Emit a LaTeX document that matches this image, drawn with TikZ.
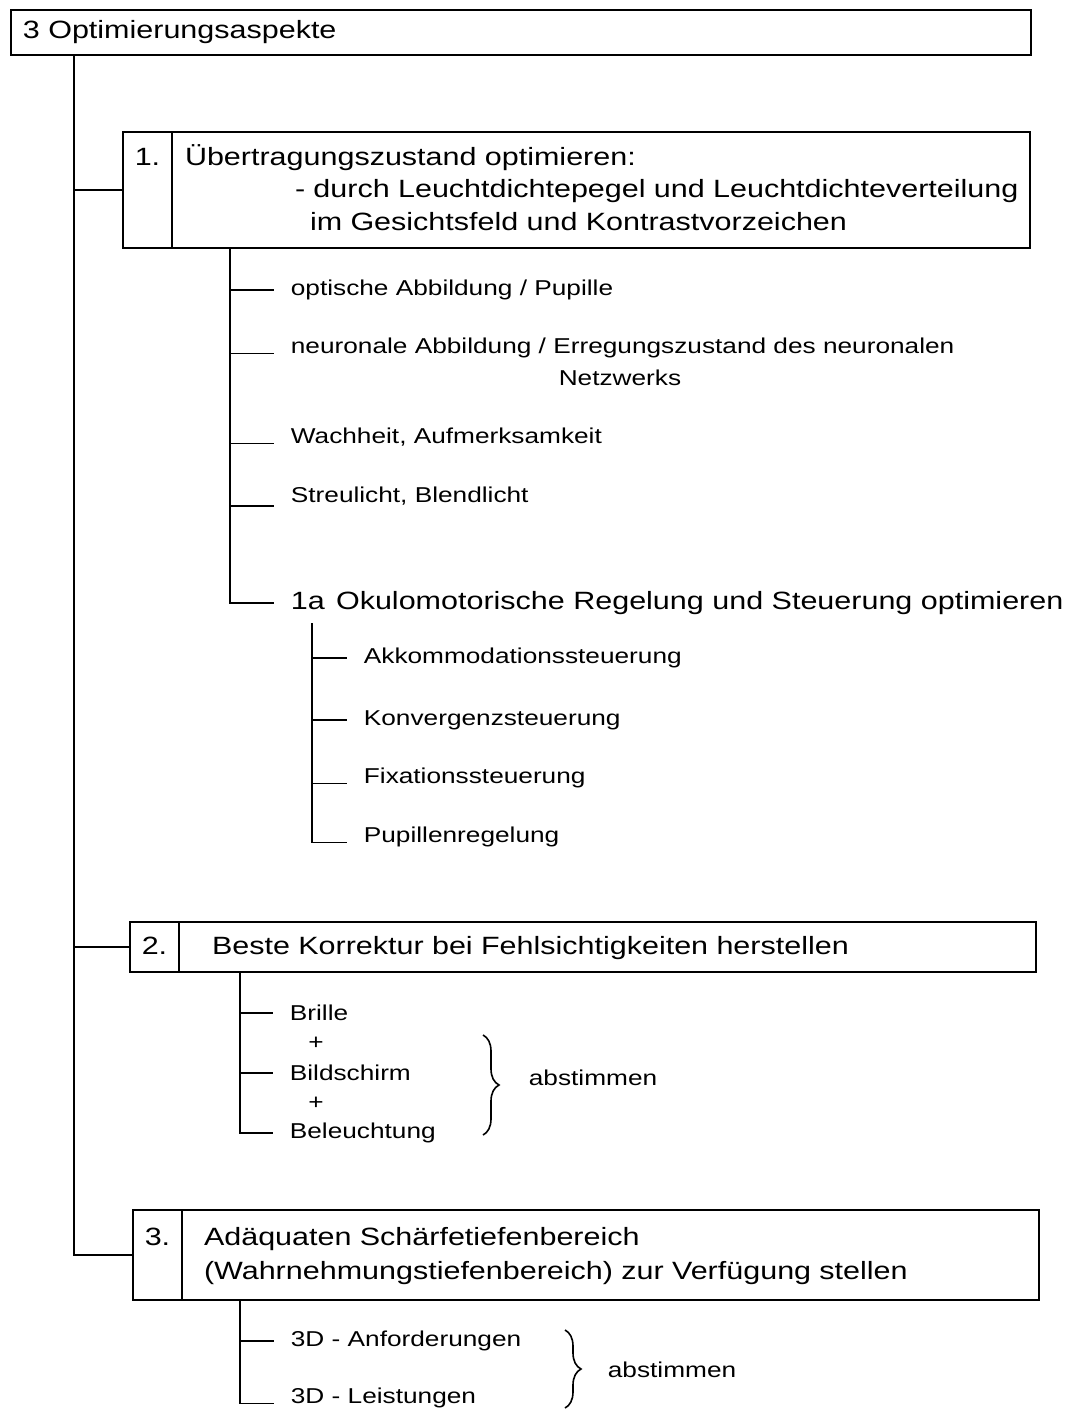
\documentclass[tikz,border=0pt]{standalone}
\usepackage{fontspec}
\setmainfont{Liberation Sans}[FakeStretch=1.22]
\usetikzlibrary{positioning,decorations.pathreplacing}

\newcommand{\bigtxt}{\fontsize{12.5pt}{16.25pt}\selectfont}
\newcommand{\smalltxt}{\fontsize{10.75pt}{15pt}\selectfont}

\tikzstyle{titlebox}=[draw, line width=1pt, anchor=north west, font=\bigtxt, align=left, inner xsep=6pt, minimum height=22.5pt, text width=498pt]
\tikzstyle{numcell}=[draw, line width=1pt, outer sep=0pt, anchor=north west, font=\bigtxt, inner sep=0pt, minimum width=24.5pt]
\tikzstyle{textcell}=[draw, line width=1pt, outer sep=0pt, font=\bigtxt, align=left, inner ysep=0pt, inner xsep=6.5pt]
\tikzstyle{leaf}=[anchor=west, font=\smalltxt, inner xsep=8pt, inner ysep=0pt]
\tikzstyle{note}=[anchor=west, font=\smalltxt, inner sep=0pt]
\tikzstyle{brace}=[decorate, decoration={brace, amplitude=8pt}, line width=0.8pt]

\begin{document}
\begin{tikzpicture}[x=0.5pt, y=-0.5pt, line width=0.9pt]
  \useasboundingbox (0,0) rectangle (1069,1413);
  \node[titlebox] (top) at (10,9) {3 Optimierungsaspekte};

  % 1.
  \node[numcell, text height=16.5pt, text depth=41.5pt] (n1) at (123,132) {1.};
  \node[textcell, right=0pt of n1, text height=16.5pt, text depth=41.5pt, text width=416pt] (t1) {Übertragungszustand optimieren:\\
    \hspace*{55pt}\mbox{- durch Leuchtdichtepegel und Leuchtdichteverteilung}\\
    \hspace*{62.5pt}im Gesichtsfeld und Kontrastvorzeichen};

  % 2.
  \node[numcell, text height=16.25pt, text depth=8.75pt] (n2) at (130,922) {2.};
  \node[textcell, right=0pt of n2, text height=16.25pt, text depth=8.75pt, inner xsep=16.5pt, text width=395.5pt] (t2) {Beste Korrektur bei Fehlsichtigkeiten herstellen};

  % 3.
  \node[numcell, text height=17.75pt, text depth=27.25pt] (n3) at (133,1210) {3.};
  \node[textcell, right=0pt of n3, text height=17.75pt, text depth=27.25pt, inner xsep=11pt, text width=406.5pt] (t3) {Adäquaten Schärfetiefenbereich\\[0.75pt]
    (Wahrnehmungstiefenbereich) zur Verfügung stellen};

  \coordinate (trunk) at (74,0);
  \draw (top.south -| trunk) |- (n3.west);
  \draw (trunk |- n1.west) -- (n1.west);
  \draw (trunk |- n2.west) -- (n2.west);

  % unter 1.
  \node[leaf] (opt) at (274,290) {optische Abbildung / Pupille};
  \node[leaf] (neuro) at (274,348) {neuronale Abbildung / Erregungszustand des neuronalen};
  \node[leaf, anchor=center, inner xsep=0pt] (netz) at (620,378) {Netzwerks};
  \node[leaf] (wach) at (274,437) {Wachheit, Aufmerksamkeit};
  \node[leaf] (streu) at (274,496) {Streulicht, Blendlicht};
  \node[leaf, font=\bigtxt] (okulo) at (274,603) {1a\hspace{0.45em}Okulomotorische Regelung und Steuerung optimieren};
  \coordinate (s1) at (230,0);
  \draw (t1.south -| s1) |- (okulo.west);
  \draw (s1 |- opt.west) -- (opt.west);
  \draw (s1 |- neuro.base west) -- (neuro.base west);
  \draw (s1 |- wach.base west) -- (wach.base west);
  \draw (s1 |- streu.south west) -- (streu.south west);

  % unter 1a
  \node[leaf] (akk) at (347,658) {Akkommodationssteuerung};
  \node[leaf] (konv) at (347,720) {Konvergenzsteuerung};
  \node[leaf] (fix) at (347,778) {Fixationssteuerung};
  \node[leaf] (pup) at (347,837) {Pupillenregelung};
  \coordinate (s1a) at (312,623);
  \draw (s1a) |- (pup.base west);
  \draw (s1a |- akk.west) -- (akk.west);
  \draw (s1a |- konv.west) -- (konv.west);
  \draw (s1a |- fix.base west) -- (fix.base west);

  % unter 2.
  \node[leaf] (brille) at (273,1013) {Brille};
  \node[note, anchor=center] (plusA) at (316,1043) {+};
  \node[leaf] (bild) at (273,1073) {Bildschirm};
  \node[note, anchor=center] (plusB) at (316,1103) {+};
  \node[leaf] (bel) at (273,1133) {Beleuchtung};
  \coordinate (s2) at (240,0);
  \draw (t2.south -| s2) |- (bel.west);
  \draw (s2 |- brille.west) -- (brille.west);
  \draw (s2 |- bild.west) -- (bild.west);
  \draw[brace] (483,1035) -- (483,1135);
  \node[note] (abst1) at (528,1078) {abstimmen};

  % unter 3.
  \node[leaf] (anf) at (274,1341) {3D - Anforderungen};
  \node[leaf] (leist) at (274,1398) {3D - Leistungen};
  \coordinate (s3) at (240,0);
  \draw (t3.south -| s3) |- (leist.base west);
  \draw (s3 |- anf.west) -- (anf.west);
  \draw[brace] (565,1330) -- (565,1408);
  \node[note] (abst2) at (607,1370) {abstimmen};
\end{tikzpicture}
\end{document}
